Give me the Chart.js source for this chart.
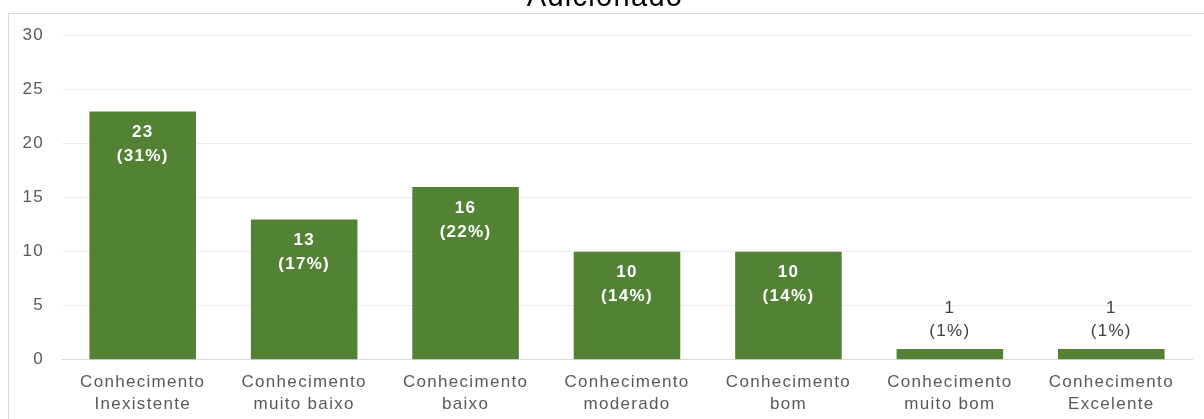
<!DOCTYPE html>
<html>
<head>
<meta charset="utf-8">
<script src="https://cdn.jsdelivr.net/npm/chart.js@4.4.1/dist/chart.umd.min.js"></script>
<style>
  html, body { margin: 0; padding: 0; background: #fff; overflow: hidden; }
  #wrap { position: relative; width: 1204px; height: 419px; }
  #frame { position: absolute; left: 8px; top: 13px; width: 1210px; height: 420px;
           border-left: 1px solid #d9d9d9; border-top: 1px solid #d9d9d9; pointer-events: none; }
</style>
</head>
<body>
<div id="wrap">
  <canvas id="grafico" width="1204" height="419"></canvas>
  <div id="frame"></div>
</div>
<script>
// datos
const categorias = [
  ["Conhecimento", "Inexistente"],
  ["Conhecimento", "muito baixo"],
  ["Conhecimento", "baixo"],
  ["Conhecimento", "moderado"],
  ["Conhecimento", "bom"],
  ["Conhecimento", "muito bom"],
  ["Conhecimento", "Excelente"]
];
const valores = [23, 13, 16, 10, 10, 1, 1];
const porcentajes = ["31%", "17%", "22%", "14%", "14%", "1%", "1%"];
const ticksY = [0, 5, 10, 15, 20, 25, 30];
const titulo = "Adicionado";

const fuente = "'Liberation Sans', Arial, sans-serif";

// espaciado de letras parecido al de Excel
const espaciado = {
  id: "espaciado",
  beforeDraw(chart) {
    chart.ctx.letterSpacing = "1.3px";
  }
};

// etiquetas de valor: dentro de la barra si es alta, encima si es baja
const etiquetas = {
  id: "etiquetas",
  afterDatasetsDraw(chart) {
    const ctx = chart.ctx;
    const meta = chart.getDatasetMeta(0);
    ctx.save();
    ctx.letterSpacing = "1.3px";
    ctx.textAlign = "center";
    ctx.textBaseline = "middle";
    meta.data.forEach((bar, i) => {
      const v = valores[i];
      const txt = ["" + v, "(" + porcentajes[i] + ")"];
      if (v >= 5) {
        ctx.fillStyle = "#ffffff";
        ctx.font = "bold 17px " + fuente;
        ctx.fillText(txt[0], bar.x, bar.y + 21);
        ctx.fillText(txt[1], bar.x, bar.y + 45);
      } else {
        ctx.fillStyle = "#404040";
        ctx.font = "17px " + fuente;
        ctx.fillText(txt[0], bar.x, bar.y - 41);
        ctx.fillText(txt[1], bar.x, bar.y - 18);
      }
    });
    ctx.restore();
  }
};

const ctx = document.getElementById("grafico");

const grafico = new Chart(ctx, {
  type: "bar",
  data: {
    labels: categorias,
    datasets: [{
      data: valores,
      backgroundColor: "#548235",
      borderWidth: 0,
      categoryPercentage: 1,
      barPercentage: 0.66
    }]
  },
  options: {
    responsive: false,
    animation: false,
    layout: { padding: { left: 18, right: 12, top: 0, bottom: 1 } },
    plugins: {
      legend: { display: false },
      tooltip: { enabled: false },
      title: {
        display: true,
        text: titulo,
        color: "#000000",
        font: { family: fuente, size: 29, weight: "normal" },
        padding: { top: -19, bottom: 20 }
      }
    },
    scales: {
      x: {
        grid: { display: false },
        border: { display: true, color: "#d9d9d9" },
        ticks: {
          color: "#595959",
          font: { family: fuente, size: 17, lineHeight: 1.3 },
          padding: 3,
          maxRotation: 0,
          autoSkip: false
        }
      },
      y: {
        min: 0,
        max: 30,
        afterFit(scale) { scale.width = 44; },
        afterBuildTicks(scale) { scale.ticks = ticksY.map(v => ({ value: v })); },
        border: { display: false },
        grid: {
          drawTicks: false,
          color: c => (c.tick && c.tick.value === 0) ? "#d9d9d9" : "#ededed"
        },
        ticks: {
          color: "#595959",
          font: { family: fuente, size: 17 },
          padding: 18
        }
      }
    }
  },
  plugins: [espaciado, etiquetas]
});
</script>
</body>
</html>
